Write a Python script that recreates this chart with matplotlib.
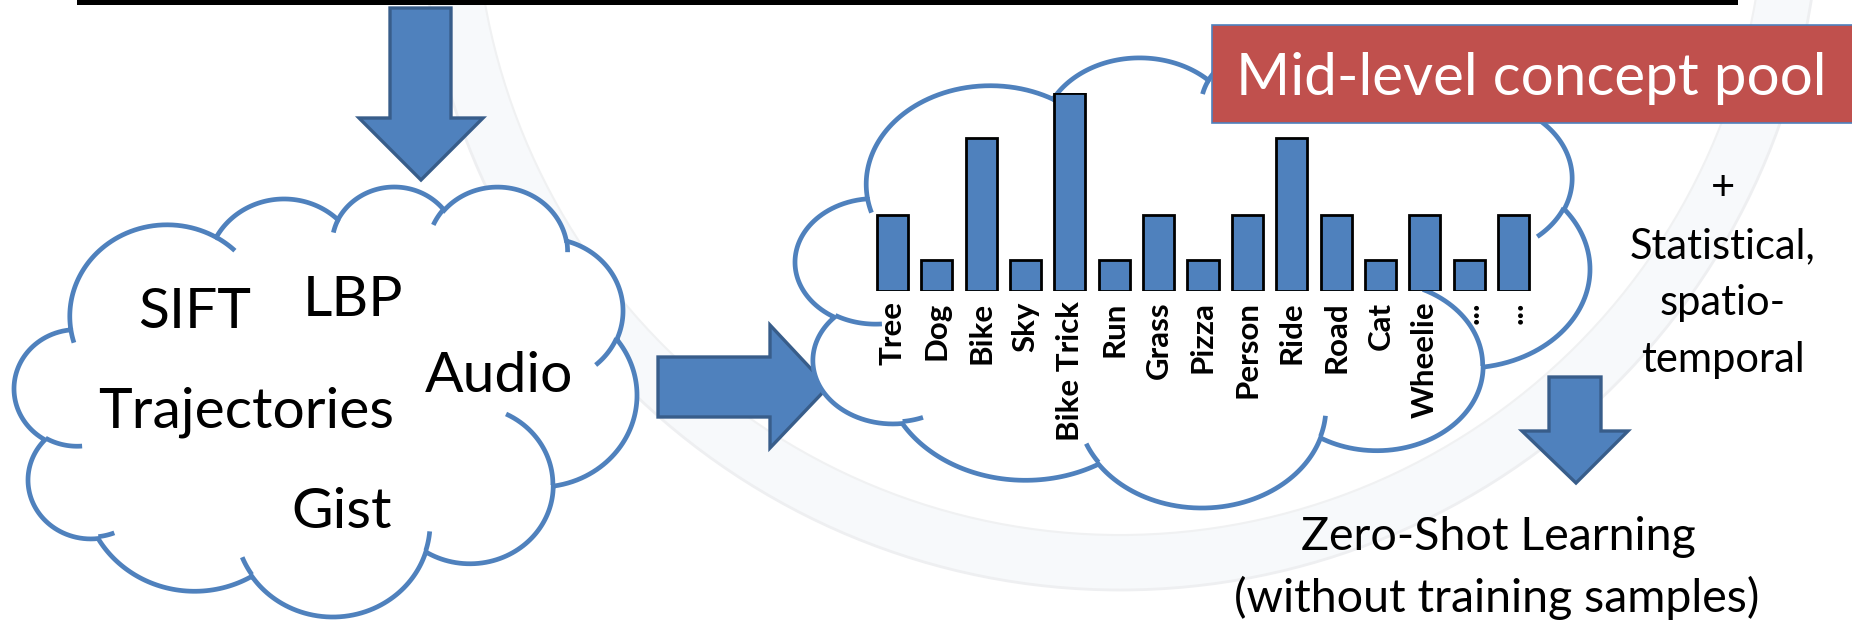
import numpy as np
import matplotlib
matplotlib.use("Agg")
from matplotlib import pyplot as plt
from matplotlib.patches import Polygon, Rectangle, Circle

plt.rcParams['font.family'] = ['Lato', 'DejaVu Sans']

# bar chart data (concept scores)
concepts = ['Tree', 'Dog', 'Bike', 'Sky', 'Bike Trick', 'Run', 'Grass', 'Pizza',
            'Person', 'Ride', 'Road', 'Cat', 'Wheelie', '...', '...']
scores = [5, 2, 10, 2, 13, 2, 5, 2, 5, 10, 5, 2, 5, 2, 5]

features = ['SIFT', 'LBP', 'Audio', 'Trajectories', 'Gist']
feature_xy = [(195, 328), (353, 316), (499, 392), (246, 428), (342, 528)]

side_text = ['+', 'Statistical,', 'spatio-', 'temporal']
side_y = [200, 258, 315, 372]

BLUE = '#4F81BD'
DARK = '#385D8A'
RED = '#C0504D'

W, H = 1852, 626

# PowerPoint cloud outline (43200 units), arcs as (wR, hR, stAng, swAng)
CLOUD_ARCS = [(6753, 9190, -11429249, 7426832), (5333, 7267, -8646143, 5396714),
              (4365, 5945, -8748475, 5983381), (4857, 6595, -7859164, 7034504),
              (5333, 7273, -4722533, 6541615), (6775, 9220, -2776035, 7816140),
              (5785, 7867, 37501, 6842000), (6752, 9215, 1347096, 6910353),
              (7720, 10543, 3974558, 4542661), (4360, 5918, -16496525, 8804134),
              (4345, 5945, -14809710, 9151131)]
CLOUD_HOOKS = [((4693, 26177), 4345, 5945, 5204520, 1585770),
               ((6928, 34899), 4360, 5918, 4416628, 686848),
               ((16478, 39090), 6752, 9215, 8257449, 844866),
               ((28827, 34751), 6752, 9215, 387196, 959901),
               ((34129, 22954), 5785, 7867, -4217541, 4255042),
               ((41798, 15354), 5333, 7273, 1819082, 1665090),
               ((38324, 5426), 4857, 6595, -824660, 891534),
               ((29078, 3952), 4857, 6595, -8950887, 1091722),
               ((22141, 4720), 4365, 5945, -9809656, 1061181),
               ((14000, 5192), 6753, 9190, -4002417, 739161),
               ((4127, 15789), 6753, 9190, 9459261, 711490)]


def arc_pts(x, y, wr, hr, st, sw, n=60):
    th = np.radians(np.linspace(st / 60000, (st + sw) / 60000, n))
    t = np.unwrap(np.arctan2(wr * np.sin(th), hr * np.cos(th)))
    cx = x - wr * np.cos(t[0])
    cy = y - hr * np.sin(t[0])
    return cx + wr * np.cos(t), cy + hr * np.sin(t)


def draw_cloud(ax, x0, y0, x1, y1):
    xs, ys = [3900.0], [14370.0]
    for wr, hr, st, sw in CLOUD_ARCS:
        px, py = arc_pts(xs[-1], ys[-1], wr, hr, st, sw)
        xs += list(px[1:])
        ys += list(py[1:])
    xs, ys = np.array(xs), np.array(ys)
    mx, Mx, my, My = xs.min(), xs.max(), ys.min(), ys.max()
    sx = lambda v: x0 + (v - mx) / (Mx - mx) * (x1 - x0)
    sy = lambda v: y0 + (v - my) / (My - my) * (y1 - y0)
    ax.add_patch(Polygon(np.c_[sx(xs), sy(ys)], closed=True, fc='white',
                         ec=BLUE, lw=3.4, zorder=2))
    for (hx, hy), wr, hr, st, sw in CLOUD_HOOKS:
        px, py = arc_pts(hx, hy, wr, hr, st, sw, 30)
        ax.plot(sx(px), sy(py), color=BLUE, lw=3.4, zorder=2.1,
                solid_capstyle='butt')


def block_arrow(ax, pts):
    ax.add_patch(Polygon(pts, closed=True, fc=BLUE, ec=DARK, lw=2.4, zorder=1.5))


fig = plt.figure(figsize=(W / 100, H / 100), dpi=100)
ax = fig.add_axes([0, 0, 1, 1])
ax.set_xlim(0, W)
ax.set_ylim(H, 0)
ax.axis('off')

# faint watermark seal
ax.add_patch(Circle((1120, -110), 700, fc='#F7F9FB', ec='#EEEFF1', lw=2, zorder=0))
ax.add_patch(Circle((1120, -110), 645, fc='white', ec='#F0F1F2', lw=1.5, zorder=0.1))

# top black bar
ax.add_patch(Rectangle((77, -5), 1661, 9.5, fc='black', ec='none', zorder=3))

# arrows
block_arrow(ax, [(390, 8), (451, 8), (451, 118), (483, 118), (421, 180),
                 (359, 118), (390, 118)])
block_arrow(ax, [(658, 357), (770, 357), (770, 325), (828, 387), (770, 448),
                 (770, 417), (658, 417)])
block_arrow(ax, [(1549, 377), (1601, 377), (1601, 431), (1628, 431), (1576, 483),
                 (1522, 431), (1549, 431)])

draw_cloud(ax, 14, 187, 637, 617)
draw_cloud(ax, 795, 45, 1590, 508)

for name, (x, y) in zip(features, feature_xy):
    ax.text(x, y, name, fontsize=41, ha='center', va='baseline', zorder=4)

# concept pool label
ax.add_patch(Rectangle((1212, 25), 700, 98, fc=RED, ec=BLUE, lw=1.2, zorder=3))
ax.text(1531, 95, 'Mid-level concept pool', color='white', fontsize=42,
        ha='center', va='baseline', zorder=4)

for s, y in zip(side_text, side_y):
    ax.text(1723, y, s, fontsize=30, ha='center', va='baseline', zorder=4)

ax.text(1498, 550, 'Zero-Shot Learning', fontsize=33.5, ha='center', va='baseline')
ax.text(1497, 612, '(without training samples)', fontsize=33.5, ha='center',
        va='baseline')

# bar chart inside the right cloud
bx = fig.add_axes([870.3 / W, (H - 291) / H, 665.4 / W, 198.5 / H])
bx.patch.set_alpha(0)
bx.bar(range(len(concepts)), scores, width=0.7, color=BLUE, edgecolor='black',
       linewidth=2)
bx.set_xlim(-0.5, len(concepts) - 0.5)
bx.set_ylim(0, 13)
bx.set_xticks(range(len(concepts)), concepts, rotation=90, fontsize=22.5,
              fontweight='bold')
bx.tick_params(axis='x', length=0, pad=7.5)
bx.set_yticks([])
for sp in bx.spines.values():
    sp.set_visible(False)

fig.savefig('out.png', dpi=100)
